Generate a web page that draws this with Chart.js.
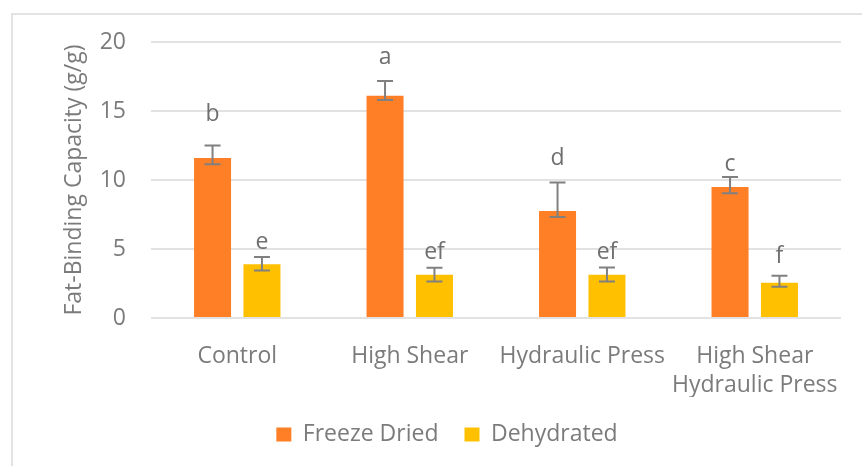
<!DOCTYPE html>
<html>
<head>
<meta charset="utf-8">
<script src="https://cdn.jsdelivr.net/npm/chart.js@4.4.1/dist/chart.umd.min.js"></script>
<style>
  html, body { margin: 0; padding: 0; background: #ffffff; }
  #frame {
    position: absolute; left: 11px; top: 13px;
    width: 900px; height: 500px;
    border: 2px solid #e3e3e3; box-sizing: border-box;
  }
  #wrap { position: absolute; left: 0; top: 0; width: 862px; height: 466px; }
</style>
</head>
<body>
<div id="frame"></div>
<div id="wrap"><canvas id="chart"></canvas></div>
<script>
// Fat-binding capacity by processing method and drying method
const categories = ['Control', 'High Shear', 'Hydraulic Press', ['High Shear', 'Hydraulic Press']];

const freezeDried        = [11.6, 16.1, 7.75, 9.5];
const freezeDriedErrUp   = [0.9, 1.07, 2.07, 0.72];
const freezeDriedErrDown = [0.45, 0.3, 0.43, 0.46];

const dehydrated         = [3.9, 3.13, 3.13, 2.55];
const dehydratedErrUp    = [0.52, 0.51, 0.53, 0.52];
const dehydratedErrDown  = [0.46, 0.48, 0.48, 0.28];

// Significance letters and the value at which each letter sits
const freezeDriedLetters  = ['b', 'a', 'd', 'c'];
const freezeDriedLetterAt = [14.25, 18.38, 11.06, 10.65];
const dehydratedLetters   = ['e', 'ef', 'ef', 'f'];
const dehydratedLetterAt  = [5.0, 4.26, 4.26, 3.98];

const yTickValues = [0, 5, 10, 15, 20];

const FONT = "'Open Sans', sans-serif";
const TEXT = '#7b7b7b';

const errorSets = [
  { up: freezeDriedErrUp, down: freezeDriedErrDown },
  { up: dehydratedErrUp, down: dehydratedErrDown }
];
const letterSets = [
  { text: freezeDriedLetters, at: freezeDriedLetterAt },
  { text: dehydratedLetters, at: dehydratedLetterAt }
];

// Draws error bars and significance letters on top of the bars
const annotate = {
  id: 'annotate',
  afterDatasetsDraw(chart) {
    const ctx = chart.ctx;
    const y = chart.scales.y;
    ctx.save();
    chart.data.datasets.forEach((ds, i) => {
      const meta = chart.getDatasetMeta(i);
      meta.data.forEach((bar, j) => {
        const v = ds.data[j];
        const top = y.getPixelForValue(v + errorSets[i].up[j]);
        const bot = y.getPixelForValue(v - errorSets[i].down[j]);
        ctx.strokeStyle = '#808080';
        ctx.lineWidth = 2;
        ctx.beginPath();
        ctx.moveTo(bar.x, top); ctx.lineTo(bar.x, bot);
        ctx.moveTo(bar.x - 8, top); ctx.lineTo(bar.x + 8, top);
        ctx.moveTo(bar.x - 8, bot); ctx.lineTo(bar.x + 8, bot);
        ctx.stroke();

        ctx.fillStyle = '#6f6f6f';
        ctx.font = "23px " + FONT;
        ctx.textAlign = 'center';
        ctx.textBaseline = 'alphabetic';
        ctx.fillText(letterSets[i].text[j], bar.x, y.getPixelForValue(letterSets[i].at[j]));
      });
    });
    ctx.restore();
  }
};

new Chart(document.getElementById('chart'), {
  type: 'bar',
  data: {
    labels: categories,
    datasets: [
      { label: 'Freeze Dried', data: freezeDried, backgroundColor: '#FF7F27', borderWidth: 0 },
      { label: 'Dehydrated', data: dehydrated, backgroundColor: '#FFC000', borderWidth: 0 }
    ]
  },
  options: {
    responsive: true,
    maintainAspectRatio: false,
    animation: false,
    categoryPercentage: 0.573,
    barPercentage: 0.749,
    layout: { padding: { left: 53, right: 21, top: 42, bottom: 10 } },
    plugins: {
      tooltip: { enabled: false },
      legend: {
        position: 'bottom',
        labels: {
          boxWidth: 15, boxHeight: 14, padding: 26,
          color: TEXT, font: { family: FONT, size: 23 }
        }
      }
    },
    scales: {
      x: {
        grid: { display: false, drawTicks: false },
        border: { display: false },
        afterFit(scale) {
          scale.height = 79;
          scale.paddingLeft = 0;
          scale.paddingRight = 0;
        },
        ticks: {
          color: TEXT, padding: 24, autoSkip: false, maxRotation: 0, minRotation: 0,
          font: { family: FONT, size: 23, lineHeight: 1.25 }
        }
      },
      y: {
        min: 0, max: 20,
        afterBuildTicks(scale) { scale.ticks = yTickValues.map(v => ({ value: v })); },
        afterFit(scale) { scale.width = 98; },
        grid: { color: '#e2e2e2', lineWidth: 2, drawTicks: false },
        border: { display: false },
        ticks: { color: TEXT, padding: 25, font: { family: FONT, size: 23 } },
        title: {
          display: true, text: 'Fat-Binding Capacity (g/g)',
          color: TEXT, font: { family: FONT, size: 23 },
          padding: { top: 8, bottom: 12 }
        }
      }
    }
  },
  plugins: [annotate]
});
</script>
</body>
</html>
